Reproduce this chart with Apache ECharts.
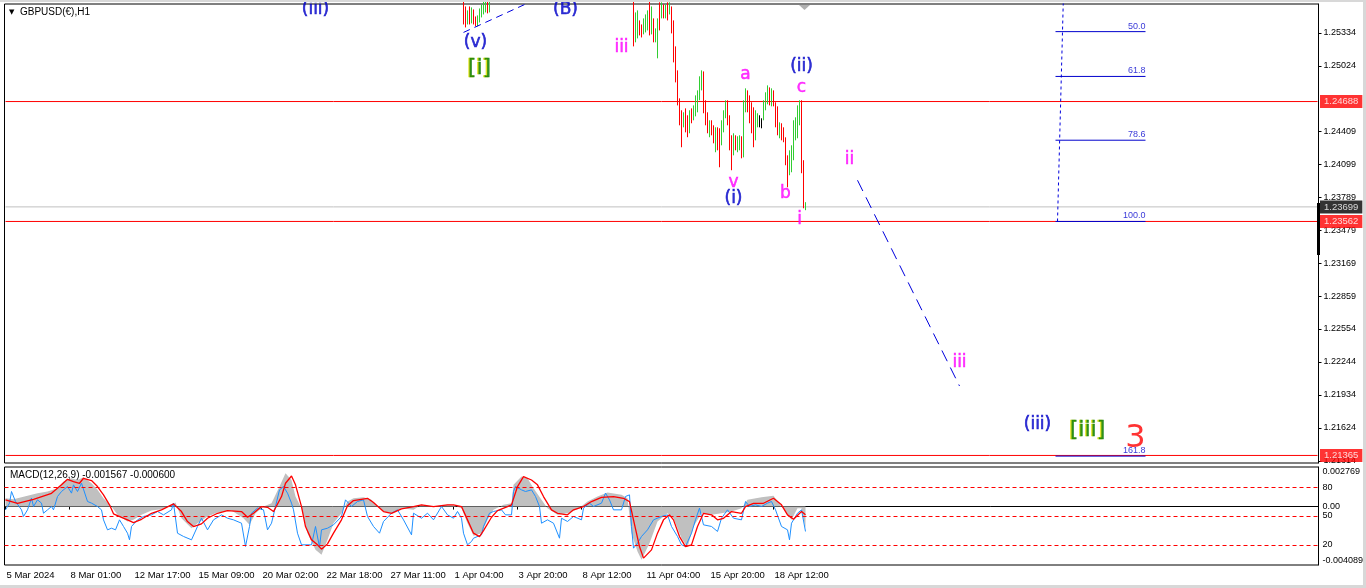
<!DOCTYPE html>
<html><head><meta charset="utf-8">
<script src="https://cdn.jsdelivr.net/npm/echarts@6/dist/echarts.min.js"></script>
<style>html,body{margin:0;padding:0;background:#fff;}#c{width:1366px;height:588px;}</style>
</head><body><div id="c"></div>
<script>
// ---------- data ----------
const chartTitle = 'GBPUSD(€),H1';
const macdTitle = 'MACD(12,26,9) -0.001567 -0.000600';
const totalSlots = 657;          // 2-hour slots, incl. chart shift
const dateLabelStep = 32;
const dateLabels = ['5 Mar 2024','8 Mar 01:00','12 Mar 17:00','15 Mar 09:00','20 Mar 02:00','22 Mar 18:00','27 Mar 11:00','1 Apr 04:00','3 Apr 20:00','8 Apr 12:00','11 Apr 04:00','15 Apr 20:00','18 Apr 12:00'];
const priceTicks = [1.25334,1.25024,1.24409,1.24099,1.23789,1.23479,1.23169,1.22859,1.22554,1.22244,1.21934,1.21624,1.21314];
const priceMin = 1.21294, priceMax = 1.25604;

const candleIdx = [229,230,231,232,233,234,235,236,237,238,239,240,241,242,
 314,315,316,317,318,319,320,321,322,323,324,325,326,327,328,329,330,331,332,333,334,335,336,337,338,339,340,
 341,342,343,344,345,346,347,348,349,350,351,352,353,354,355,356,357,358,359,360,361,362,363,364,365,366,367,
 368,369,370,371,372,373,374,375,376,377,378,379,380,381,382,383,384,385,386,387,388,389,390,391,392,393,394,
 395,396,397,398,399,400];
const candleOpen = [1.2562,1.25544,1.25431,1.25506,1.25450,1.25525,1.25450,1.25412,1.25469,1.25516,1.25553,1.25581,1.2564,1.25562,
 1.2565,1.25262,1.25356,1.25431,1.25394,1.25337,1.25394,1.25450,1.25591,1.25356,1.25450,1.25281,1.25169,1.25544,1.25497,1.25562,1.25506,1.25581,1.25525,1.25562,1.25337,1.25169,1.24934,1.24700,1.24559,1.24465,1.24587,
 1.24493,1.24418,1.24587,1.24531,1.24606,1.24624,1.24746,1.24868,1.24943,1.24643,1.24559,1.24418,1.24493,1.24437,1.24324,1.24418,1.24343,1.24306,1.24437,1.24559,1.24662,1.24531,1.24343,1.24230,1.24343,1.24249,1.24277,
 1.24324,1.24230,1.24606,1.24746,1.24700,1.24587,1.24531,1.24352,1.24474,1.24512,1.24493,1.24531,1.24643,1.24718,1.24793,1.24681,1.24775,1.24662,1.24531,1.24390,1.24465,1.24418,1.24324,1.24137,1.24024,1.24137,1.24230,
 1.24371,1.24437,1.24606,1.24681,1.24090,1.23680];
const candleClose = [1.25450,1.25431,1.25506,1.25450,1.25525,1.25431,1.25412,1.25469,1.25525,1.25562,1.25600,1.2564,1.25562,1.2562,
 1.25300,1.25487,1.25469,1.25328,1.25300,1.25431,1.25469,1.25525,1.25328,1.25562,1.25300,1.25356,1.25450,1.25375,1.25581,1.25487,1.25562,1.25469,1.25581,1.25337,1.25169,1.24934,1.24700,1.24531,1.24465,1.24559,1.24465,
 1.24399,1.24587,1.24512,1.24624,1.24700,1.24775,1.24887,1.24962,1.24643,1.24531,1.24437,1.24493,1.24418,1.24324,1.24418,1.24277,1.24277,1.24465,1.24587,1.24662,1.24512,1.24324,1.24230,1.24343,1.24277,1.24324,1.24343,
 1.24230,1.24643,1.24737,1.24624,1.24559,1.24437,1.24324,1.24531,1.24531,1.24512,1.24493,1.24652,1.24746,1.24812,1.24700,1.24775,1.24662,1.24493,1.24418,1.24474,1.24362,1.24324,1.24137,1.23930,1.24183,1.24249,1.24437,
 1.24465,1.24624,1.24681,1.24137,1.23714,1.23699];
const candleLow = [1.25412,1.25384,1.25412,1.25412,1.25422,1.25412,1.25394,1.25394,1.25431,1.25478,1.25506,1.25525,1.25516,1.25525,
 1.25206,1.25244,1.25281,1.25309,1.25290,1.25319,1.25337,1.25356,1.25309,1.25319,1.25244,1.25244,1.25094,1.25356,1.25469,1.25469,1.25469,1.25450,1.25506,1.25328,1.25056,1.24868,1.24652,1.24465,1.24259,1.24446,1.24399,
 1.24353,1.24390,1.24484,1.24512,1.24549,1.24587,1.24700,1.24793,1.24578,1.24465,1.24390,1.24353,1.24371,1.24296,1.24212,1.24230,1.24071,1.24277,1.24399,1.24531,1.24465,1.24230,1.24043,1.24183,1.24230,1.24212,1.24230,
 1.24155,1.24164,1.24587,1.24587,1.24484,1.24390,1.24259,1.24324,1.24446,1.24446,1.24437,1.24512,1.24606,1.24662,1.24652,1.24643,1.24643,1.24446,1.24371,1.24343,1.24324,1.24306,1.24090,1.23883,1.23996,1.24024,1.24137,
 1.24324,1.24343,1.24465,1.24015,1.23686,1.23668];
const candleHigh = [1.2570,1.25581,1.25544,1.25581,1.25572,1.25553,1.25487,1.25497,1.25562,1.25600,1.2564,1.2568,1.2569,1.2570,
 1.2570,1.25525,1.25544,1.25450,1.25412,1.25469,1.25506,1.25544,1.2565,1.25581,1.25469,1.25375,1.25469,1.2562,1.2562,1.25600,1.25600,1.2562,1.2562,1.25581,1.25450,1.25206,1.24981,1.24718,1.24606,1.24587,1.24624,
 1.24559,1.24606,1.24624,1.24652,1.24746,1.24793,1.24925,1.24981,1.24971,1.24700,1.24587,1.24512,1.24512,1.24465,1.24446,1.24446,1.24437,1.24512,1.24606,1.24700,1.24700,1.24559,1.24371,1.24390,1.24371,1.24362,1.24371,
 1.24362,1.24700,1.24812,1.24793,1.24746,1.24681,1.24634,1.24606,1.24578,1.24559,1.24531,1.24700,1.24775,1.24840,1.24821,1.24812,1.24793,1.24681,1.24643,1.24493,1.24484,1.24446,1.24352,1.24183,1.24230,1.24277,1.24512,
 1.24540,1.24652,1.24700,1.24700,1.24137,1.23743];

const redLevels = [1.24688, 1.23562, 1.21365];
const bidPrice = 1.23699;

const fibHigh = 1.27127, fibLow = 1.23562;
const fibLevels = [50, 61.8, 78.6, 100, 161.8];
const fibSpan = [525, 570];
const fibStem = [[526, 1.23562], [531, 1.27127]];
const trendLineA = [[229, 1.25337], [262, 1.25620]];
const trendLineB = [[426, 1.23949], [477, 1.22017]];

const blueLabels = [[155,1.25550,'(iii)'],[280,1.25550,'(B)'],[235,1.25239,'(v)'],[398,1.25018,'(ii)'],[364,1.23776,'(i)'],[516,1.21651,'(iii)']];
const magentaLabels = [[308,1.25192,'iii'],[370,1.24943,'a'],[398,1.24817,'c'],[364,1.23926,'v'],[390,1.23822,'b'],[397,1.23579,'i'],[422,1.24146,'ii'],[477,1.22233,'iii']];
const greenLabels = [[237,1.25000,'[i]'],[541,1.21604,'[iii]']];
const redLabels = [[565,1.21524,'3']];

const histIdx = [0,4,8,13,16,21,26,29,33,36,39,43,46,49,53,56,61,64,68,73,78,83,85,88,93,96,101,106,113,119,122,125,129,133,137,140,143,145,148,151,155,158,161,164,168,171,174,179,183,186,189,193,198,204,208,214,221,223,228,231,234,238,241,244,249,253,254,258,261,264,268,271,276,281,286,291,296,301,308,311,313,316,318,322,326,331,334,338,341,344,348,353,358,363,368,371,378,384,388,393,396,398,400];
const histVal = [0.00058,0.00051,0.00065,0.00082,0.00093,0.00105,0.00128,0.00175,0.00198,0.00186,0.00205,0.00163,0.00117,0.00058,0,-0.00058,-0.00105,-0.00093,-0.00058,-0.00028,-0.00019,0.00012,0.00028,-0.00082,-0.00151,-0.00117,-0.00070,-0.00042,-0.00028,-0.00082,-0.00128,-0.00047,0,0.00023,0.00140,0.00233,0.00186,0.00070,-0.00012,-0.00186,-0.00303,-0.00338,-0.00233,-0.00117,-0.00047,0.00035,0.00058,0.00065,0.00047,0,-0.00035,-0.00047,-0.00012,-0.00023,0.00012,0,0.00012,0.00012,-0.00012,-0.00117,-0.00205,-0.00186,-0.00093,-0.00023,0.00012,0.00023,0.00152,0.00210,0.00198,0.00128,0.00047,-0.00012,-0.00058,-0.00047,-0.00019,0.00035,0.00070,0.00098,0.00082,0.00058,-0.00186,-0.00315,-0.00373,-0.00256,-0.00105,-0.00047,-0.00082,-0.00221,-0.00284,-0.00140,-0.00047,-0.00058,-0.00047,-0.00035,-0.00012,0.00047,0.00065,0.00075,0,-0.00093,-0.00012,-0.00012,-0.00151];

const sigIdx = [0,6,14,23,28,31,34,37,39,43,46,49,52,54,58,61,64,68,73,78,84,88,91,94,98,101,106,111,118,121,124,128,131,134,138,140,143,145,148,150,153,156,158,161,164,168,171,174,181,184,189,193,198,204,208,214,221,224,228,231,234,237,239,243,246,251,253,256,259,263,266,269,273,276,281,284,289,293,298,304,309,312,314,317,319,323,326,329,332,334,337,340,343,346,349,353,356,359,363,368,370,374,379,384,388,391,394,398,400];
const sigVal = [0.00047,0.00023,0.00051,0.00093,0.00152,0.00191,0.00175,0.00163,0.00198,0.00182,0.00140,0.00082,0.00012,-0.00051,-0.00075,-0.00093,-0.00112,-0.00089,-0.00047,-0.00023,0.00019,-0.00035,-0.00105,-0.00140,-0.00121,-0.00082,-0.00047,-0.00028,-0.00035,-0.00075,-0.00047,0,-0.00005,-0.00035,0.00070,0.00163,0.00214,0.00152,0,-0.00140,-0.00233,-0.00268,-0.00298,-0.00261,-0.00186,-0.00093,0.00005,0.00042,0.00058,0.00028,-0.00035,-0.00047,-0.00016,0,0.00012,0,0.00012,0.00012,0,-0.00093,-0.00186,-0.00210,-0.00168,-0.00075,-0.00028,0,0.00012,0.00140,0.00210,0.00186,0.00152,0.00070,-0.00023,-0.00047,-0.00058,-0.00023,0,0.00035,0.00065,0.00070,0.00058,0.00035,-0.00093,-0.00280,-0.00361,-0.00303,-0.00186,-0.00093,-0.00058,-0.00093,-0.00210,-0.00280,-0.00268,-0.00140,-0.00047,-0.00058,-0.00093,-0.00082,-0.00035,-0.00047,0,0.00023,0.00023,0.00058,0.00012,-0.00058,-0.00089,-0.00035,-0.00058];

const stochIdx = [0,2,3,5,8,9,11,13,14,16,18,19,21,23,24,26,28,31,33,34,36,38,39,41,43,46,48,49,51,53,55,57,59,61,62,63,66,69,73,76,79,83,84,86,89,93,96,98,101,104,108,111,114,118,120,122,123,126,129,131,133,135,137,139,141,143,144,146,148,149,153,155,157,158,161,164,168,170,173,176,179,181,184,187,189,193,196,199,203,204,208,211,214,218,221,224,226,228,229,231,233,234,238,239,242,244,248,250,253,254,255,258,260,263,265,267,268,271,274,277,278,281,284,288,289,292,294,298,300,302,304,308,310,312,313,314,316,318,321,324,328,331,333,336,338,340,343,345,347,349,353,356,358,361,364,368,370,372,375,378,381,383,385,388,391,392,393,396,398,400];
const stochVal = [56.4,63.4,75.5,65.1,56.4,49.5,56.4,68.6,59.9,66.8,63.4,52.9,56.4,59.9,56.4,70.3,75.5,80.7,73.8,82.4,75.5,84.2,85.9,65.1,63.4,59.9,56.4,46.0,35.6,37.3,35.6,46.0,39.1,32.1,25.2,39.1,46.0,49.5,51.2,54.7,51.2,56.4,63.4,32.1,28.7,25.2,39.1,47.7,35.6,46.0,51.2,47.7,46.0,42.5,18.3,39.1,52.9,58.2,56.4,35.6,42.5,59.9,77.2,80.7,73.8,63.4,56.4,32.1,20.0,21.7,20.0,39.1,17.6,35.6,37.3,40.8,49.5,66.8,59.9,65.1,66.8,49.5,39.1,32.1,44.3,52.9,56.4,46.0,30.4,52.9,47.7,52.9,46.0,59.9,51.2,47.7,54.7,47.7,32.1,20.0,23.5,26.9,30.4,39.1,52.9,54.7,56.4,51.2,51.2,75.5,80.7,77.2,75.5,77.2,70.3,59.9,42.5,46.0,42.5,26.9,47.7,44.3,49.5,46.0,58.2,63.4,59.9,63.4,73.8,66.8,56.4,56.4,70.3,72.0,39.1,16.5,21.7,28.7,35.6,46.0,49.5,51.2,39.1,28.7,20.0,18.3,32.1,46.0,58.2,40.8,39.1,33.9,47.7,56.4,47.7,46.0,65.1,59.9,61.6,59.9,63.4,65.1,56.4,39.1,35.6,25.2,42.5,52.9,56.4,33.9];
const stochLevels = [80, 50, 20];
const macdMax = 0.002769, macdMin = -0.004089;
const macdTicks = [0.002769, 0, -0.004089];

// ---------- build ----------
const categories = Array.from({length: totalSlots}, (_, k) => String(k));
const lastSlot = totalSlots - 1;
const candleData = new Array(totalSlots).fill('-');
candleIdx.forEach((ix, k) => { candleData[ix] = [candleOpen[k], candleClose[k], candleLow[k], candleHigh[k]]; });
const pair = (xs, ys) => xs.map((x, k) => [x, ys[k]]);
const fibPrice = lvl => fibHigh - (fibHigh - fibLow) * lvl / 100;
const FONT = 'Liberation Sans';
const WAVEFONT = 'DejaVu Sans';
const isDateSlot = i => i % dateLabelStep === 0 && i / dateLabelStep < dateLabels.length;

function labelSeries(list, style) {
  return { type: 'scatter', xAxisIndex: 0, yAxisIndex: 0, symbolSize: 1, silent: true, clip: false, z: 6,
    itemStyle: { color: 'rgba(0,0,0,0)' },
    data: list.map(d => ({ value: [d[0], d[1]], name: d[2] })),
    label: Object.assign({ show: true, position: 'inside', formatter: p => p.name, fontFamily: WAVEFONT }, style) };
}
function segSeries(points, color, type, width, z) {
  return { type: 'line', xAxisIndex: 0, yAxisIndex: 0, data: points, symbol: 'none', silent: true, clip: true, z: z || 4,
    lineStyle: { color: color, width: width || 1, type: type || 'solid' }, animation: false };
}

const series = [];
// horizontal price levels (drawn under candles)
redLevels.forEach(v => series.push(segSeries([[0, v], [lastSlot, v]], '#ff0000', 'solid', 1, 2)));
series.push(segSeries([[0, bidPrice], [lastSlot, bidPrice]], '#c0c0c0', 'solid', 1, 1));
series.push({
  type: 'candlestick', xAxisIndex: 0, yAxisIndex: 0, data: candleData, barWidth: 1, clip: true, z: 3,
  large: false, progressive: 0,
  itemStyle: { color: '#32cd32', color0: '#ff0000', borderColor: '#32cd32', borderColor0: '#ff0000', borderColorDoji: '#000000', borderWidth: 1 }
});
// price boxes on the right scale
series.push({ type: 'scatter', xAxisIndex: 0, yAxisIndex: 0, symbolSize: 1, silent: true, clip: false, z: 20,
  itemStyle: { color: 'rgba(0,0,0,0)' },
  data: redLevels.map(v => ({ value: [lastSlot, v], name: v.toFixed(5), label: { backgroundColor: '#ff0000' } }))
    .concat([{ value: [lastSlot, bidPrice], name: bidPrice.toFixed(5), label: { backgroundColor: '#000000' } }]),
  label: { show: true, position: 'right', distance: 2, formatter: p => p.name, color: '#fff', fontFamily: FONT, fontSize: 9.5,
    padding: [2, 4, 1, 4] } });
series.push(segSeries(trendLineA, '#0000dd', [7, 5], 1));
series.push(segSeries(trendLineB, '#0000dd', [12, 7], 1));
series.push(segSeries(fibStem, '#0000dd', [3, 3], 1));
fibLevels.forEach(l => series.push(segSeries([[fibSpan[0], fibPrice(l)], [fibSpan[1], fibPrice(l)]], '#0000cd', 'solid', 1, 5)));
series.push({ type: 'scatter', xAxisIndex: 0, yAxisIndex: 0, symbolSize: 1, silent: true, clip: false, z: 6,
  itemStyle: { color: 'rgba(0,0,0,0)' },
  data: fibLevels.map(l => ({ value: [fibSpan[1], fibPrice(l)], name: l.toFixed(1) })),
  label: { show: true, position: 'inside', align: 'right', verticalAlign: 'bottom', offset: [0, -1], formatter: p => p.name,
    color: '#0000cd', fontFamily: FONT, fontSize: 9 } });
series.push(labelSeries(blueLabels, { color: '#0000c8', fontSize: 17, textBorderColor: '#0000c8', textBorderWidth: 0.6 }));
series.push(labelSeries(magentaLabels, { color: '#ff00ff', fontSize: 17, textBorderColor: '#ff00ff', textBorderWidth: 0.5 }));
series.push(labelSeries(greenLabels, { color: '#007800', fontSize: 22, textBorderColor: '#007800', textBorderWidth: 0.5,
  textShadowColor: '#e0e000', textShadowOffsetX: -1.2, textShadowOffsetY: 0, textShadowBlur: 0.1 }));
series.push(labelSeries(redLabels, { color: '#ff0000', fontSize: 32 }));

// MACD panel
series.push({ type: 'line', xAxisIndex: 1, yAxisIndex: 1, data: pair(histIdx, histVal), symbol: 'none', silent: true, z: 2,
  lineStyle: { width: 0, color: '#c0c0c0' }, areaStyle: { color: '#c0c0c0', opacity: 1 }, animation: false });
series.push({ type: 'line', xAxisIndex: 1, yAxisIndex: 1, data: pair(sigIdx, sigVal), symbol: 'none', silent: true, z: 4,
  lineStyle: { width: 1.3, color: '#ff0000' }, animation: false });
series.push({ type: 'line', xAxisIndex: 1, yAxisIndex: 2, data: pair(stochIdx, stochVal), symbol: 'none', silent: true, z: 3,
  lineStyle: { width: 1, color: '#1e90ff' }, animation: false,
  markLine: { silent: true, symbol: 'none', animation: false, label: { show: false },
    data: stochLevels.map(v => ({ yAxis: v })), lineStyle: { color: '#ff0000', type: [4, 3], width: 1 } } });

const axisText = { color: '#000', fontFamily: FONT, fontSize: 9 };
const option = {
  animation: false,
  backgroundColor: '#ffffff',
  grid: [
    { left: 4.5, top: 4, width: 1314, height: 459, show: true, borderColor: '#000', borderWidth: 1, backgroundColor: '#fff', containLabel: false, outerBoundsMode: 'none' },
    { left: 4.5, top: 467, width: 1314, height: 98, show: true, borderColor: '#000', borderWidth: 1, backgroundColor: '#fff', containLabel: false, outerBoundsMode: 'none' }
  ],
  xAxis: [
    { type: 'category', gridIndex: 0, data: categories, boundaryGap: true, show: true,
      axisLine: { show: false }, axisTick: { show: false }, axisLabel: { show: false }, splitLine: { show: false } },
    { type: 'category', gridIndex: 1, data: categories, boundaryGap: true,
      axisLine: { show: true, lineStyle: { color: '#000' } },
      axisTick: { show: true, interval: isDateSlot, alignWithLabel: true, length: 3, lineStyle: { color: '#000' } },
      axisLabel: Object.assign({ interval: isDateSlot, formatter: (v, i) => dateLabels[Math.round(i / dateLabelStep)] || '', align: 'left', margin: 5, padding: [0, 0, 0, 1] }, axisText, { fontSize: 9.5 }),
      splitLine: { show: false } }
  ],
  yAxis: [
    { type: 'value', gridIndex: 0, position: 'right', min: priceMin, max: priceMax, scale: true,
      axisLine: { show: true, lineStyle: { color: '#000' } },
      axisTick: { show: true, length: 3, customValues: priceTicks, lineStyle: { color: '#000' } },
      axisLabel: Object.assign({ customValues: priceTicks, formatter: v => v.toFixed(5), margin: 5 }, axisText),
      splitLine: { show: false } },
    { type: 'value', gridIndex: 1, position: 'right', min: macdMin, max: macdMax,
      axisLine: { show: true, lineStyle: { color: '#000' } },
      axisTick: { show: false },
      axisLabel: Object.assign({ customValues: macdTicks, formatter: v => (v === 0 ? '0.00' : v.toFixed(6)), margin: 4,
        verticalAlignMaxLabel: 'bottom', verticalAlignMinLabel: 'top' }, axisText),
      splitLine: { show: false } },
    { type: 'value', gridIndex: 1, position: 'right', min: -1, max: 101,
      axisLine: { show: false }, axisTick: { show: false },
      axisLabel: Object.assign({ customValues: stochLevels, formatter: v => String(v), margin: 4 }, axisText),
      splitLine: { show: false } }
  ],
  graphic: [
    { type: 'rect', left: 0, top: 0, shape: { width: 1366, height: 2 }, style: { fill: '#d8d8d8' }, silent: true, z: 100 },
    { type: 'rect', left: 1363, top: 0, shape: { width: 3, height: 588 }, style: { fill: '#d8d8d8' }, silent: true, z: 100 },
    { type: 'rect', left: 0, top: 585, shape: { width: 1366, height: 3 }, style: { fill: '#d8d8d8' }, silent: true, z: 100 },
    { type: 'rect', left: 1317, top: 203, shape: { width: 3, height: 52 }, style: { fill: '#000' }, silent: true, z: 100 },
    { type: 'polygon', shape: { points: [[799, 5], [810, 5], [804.5, 10]] }, style: { fill: '#b0b0b0' }, silent: true, z: 100 },
    { type: 'text', left: 9, top: 9, style: { text: '▼', fill: '#000', font: '7px "DejaVu Sans"' }, silent: true, z: 100 },
    { type: 'text', left: 20, top: 7, style: { text: chartTitle, fill: '#000', font: '10px "Liberation Sans"' }, silent: true, z: 100 },
    { type: 'text', left: 10, top: 470, style: { text: macdTitle, fill: '#000', font: '10px "Liberation Sans"' }, silent: true, z: 100 }
  ],
  series: series
};
const chart = echarts.init(document.getElementById('c'), null, { renderer: 'canvas' });
chart.setOption(option);
</script></body></html>
